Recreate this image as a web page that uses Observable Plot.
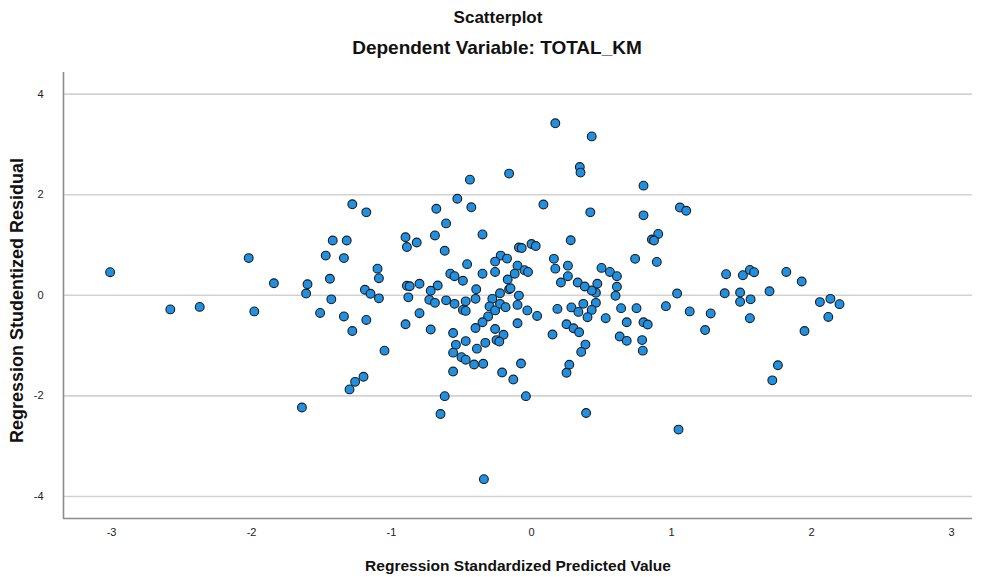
<!DOCTYPE html>
<html>
<head>
<meta charset="utf-8">
<script src="https://cdn.jsdelivr.net/npm/d3@7"></script>
<script src="https://cdn.jsdelivr.net/npm/@observablehq/plot@0.6"></script>
<style>
  html, body { margin: 0; padding: 0; background: #ffffff; }
  #chart { width: 989px; height: 577px; }
</style>
</head>
<body>
<div id="chart"></div>
<script>
const titleText = "Scatterplot";
const subtitleText = "Dependent Variable: TOTAL_KM";
const xLabel = "Regression Standardized Predicted Value";
const yLabel = "Regression Studentized Residual";
const xTicks = [-3, -2, -1, 0, 1, 2, 3];
const yTicks = [-4, -2, 0, 2, 4];
const gridValues = [-4, -2, 0, 2, 4];

// Regression standardized predicted values (x)
const predicted = [
  -1.28, -1.18, -1.42, -1.32, -2.02, -1.47, -1.34, -3.01, -1.84, -1.60,
  -1.44, -1.61, -1.43, -1.19, -1.15, -1.09, -2.58, -2.37, -1.98, -1.51,
  -1.34, -1.18, -1.28, -1.20, -1.26, -1.30, -1.64, 0.17, 0.43, 0.345,
  0.35, -0.16, -0.44, -0.53, -0.43, -0.68, 0.085, 0.80, 0.42, 0.80,
  -0.61, -0.69, -0.35, -0.90, -0.89, -0.82, -0.62, 0.28, -0.09, -0.07,
  0.00, 0.03, 0.905, 0.86, 0.875, 0.16, 0.17, 0.26, 0.74, 0.895,
  0.50, 0.56, 0.61, 0.61, 0.60, 0.47, 0.46, 0.46, 0.43, 0.33,
  0.38, 0.26, 0.21, 0.37, -0.22, -0.175, -0.26, -0.46, -0.10, -0.05,
  -0.025, -0.12, -0.26, -0.17, -0.16, -0.15, -0.225, -0.09, -0.35, -0.49,
  -0.58, -0.55, -0.67, -0.72, -0.89, -0.87, -0.80, -0.395, -0.88, -0.73,
  -0.69, -0.61, -0.55, -0.47, -0.40, -0.28, -1.10, -1.09, 1.06, 1.105,
  1.39, 1.51, 1.56, 1.59, 1.82, 1.93, 1.04, 1.38, 1.49, 1.70,
  1.49, 1.565, 0.96, 1.13, 1.28, 1.24, 1.56, 2.06, 2.135, 2.20,
  2.12, 1.95, 1.76, 1.72, 1.05, -0.49, -0.47, -0.30, -0.26, -0.225,
  -0.185, -0.10, -0.03, 0.04, 0.185, 0.285, 0.335, 0.43, 0.40, 0.53,
  0.64, 0.75, 0.68, 0.80, 0.83, 0.63, 0.68, 0.79, 0.795, 0.25,
  0.30, 0.34, 0.15, 0.385, 0.355, 0.27, 0.25, 0.39, -0.10, -0.20,
  -0.26, -0.25, -0.23, -0.31, -0.35, -0.40, -0.33, -0.39, -0.47, -0.54,
  -0.56, -0.56, -0.50, -0.47, -0.41, -0.345, -0.56, -0.21, -0.13, -0.075,
  -0.04, -0.62, -0.65, -0.34, -0.72, -0.80, -0.90, -1.05
];

// Regression studentized residuals (y)
const residual = [
  1.81, 1.65, 1.09, 1.09, 0.74, 0.79, 0.74, 0.46, 0.24, 0.22,
  0.33, 0.035, -0.08, 0.11, 0.03, -0.06, -0.28, -0.23, -0.32, -0.35,
  -0.42, -0.49, -0.71, -1.62, -1.72, -1.87, -2.23, 3.42, 3.16, 2.55,
  2.44, 2.42, 2.30, 1.92, 1.75, 1.72, 1.805, 2.18, 1.65, 1.59,
  1.43, 1.19, 1.21, 1.155, 0.96, 1.05, 0.885, 1.095, 0.95, 0.94,
  1.02, 0.98, 1.22, 1.11, 1.09, 0.725, 0.53, 0.59, 0.725, 0.665,
  0.545, 0.465, 0.38, 0.17, -0.01, 0.23, 0.05, -0.15, 0.095, 0.255,
  0.175, 0.38, 0.255, -0.17, 0.79, 0.73, 0.67, 0.62, 0.59, 0.50,
  0.465, 0.43, 0.465, 0.315, 0.12, 0.14, 0.04, -0.005, 0.43, 0.29,
  0.43, 0.38, 0.195, 0.09, 0.19, 0.18, 0.23, 0.12, -0.04, -0.09,
  -0.15, -0.10, -0.17, -0.12, -0.07, -0.07, 0.53, 0.34, 1.745, 1.68,
  0.42, 0.40, 0.505, 0.46, 0.465, 0.275, 0.035, 0.04, 0.055, 0.08,
  -0.13, -0.08, -0.215, -0.32, -0.36, -0.69, -0.455, -0.135, -0.07, -0.175,
  -0.43, -0.71, -1.39, -1.69, -2.67, -0.29, -0.31, -0.22, -0.30, -0.17,
  -0.235, -0.19, -0.30, -0.41, -0.27, -0.24, -0.33, -0.29, -0.435, -0.455,
  -0.255, -0.255, -0.535, -0.535, -0.58, -0.82, -0.905, -0.89, -1.10, -0.575,
  -0.655, -0.735, -0.78, -0.98, -1.125, -1.38, -1.54, -2.34, -0.555, -0.785,
  -0.67, -0.89, -0.92, -0.42, -0.535, -0.65, -0.945, -1.06, -0.91, -0.985,
  -0.75, -1.14, -1.23, -1.28, -1.375, -1.36, -1.515, -1.535, -1.675, -1.355,
  -2.005, -2.005, -2.36, -3.655, -0.68, -0.355, -0.575, -1.10
];

const points = predicted.map((x, i) => ({x, y: residual[i]}));

const xDomain = [-3.343, 3.15];
const yDomain = [-4.437, 4.43];

const font = "'Liberation Sans', Arial, Helvetica, sans-serif";
const fmt = d => String(d);

const chart = Plot.plot({
  width: 989,
  height: 577,
  marginTop: 72,
  marginBottom: 59,
  marginLeft: 63,
  marginRight: 17,
  style: {fontFamily: font, background: "#ffffff", overflow: "visible"},
  x: {domain: xDomain},
  y: {domain: yDomain},
  marks: [
    Plot.ruleY(gridValues, {stroke: "#d2d2d2", strokeWidth: 1.6}),
    Plot.ruleX([xDomain[0]], {stroke: "#8c8c8c", strokeWidth: 1.6}),
    Plot.ruleY([yDomain[0]], {stroke: "#8c8c8c", strokeWidth: 1.6}),
    Plot.axisX({ticks: xTicks, tickFormat: fmt, tickSize: 0, tickPadding: 10, fontSize: 11, label: null, color: "#222"}),
    Plot.axisY({ticks: yTicks, tickFormat: fmt, tickSize: 0, tickPadding: 20, fontSize: 11, label: null, color: "#222"}),
    Plot.dot(points, {x: "x", y: "y", r: 4.4, fill: "#1f90e2", stroke: "#1c1c1c", strokeWidth: 1.1}),
    Plot.text([titleText], {text: d => d, frameAnchor: "top", lineAnchor: "middle", textAnchor: "middle", dx: -20, dy: -55, fontSize: 17, fontWeight: "bold", fill: "#111"}),
    Plot.text([subtitleText], {text: d => d, frameAnchor: "top", lineAnchor: "middle", textAnchor: "middle", dx: -21, dy: -25, fontSize: 19, fontWeight: "bold", fill: "#111"}),
    Plot.text([xLabel], {text: d => d, frameAnchor: "bottom", lineAnchor: "middle", textAnchor: "middle", dy: 48, fontSize: 15.5, fontWeight: "bold", fill: "#111"}),
    Plot.text([yLabel], {text: d => d, frameAnchor: "left", lineAnchor: "middle", textAnchor: "middle", dx: -46, dy: 5, rotate: -90, fontSize: 18, fontWeight: "bold", fill: "#111"})
  ]
});

document.getElementById("chart").appendChild(chart);
</script>
</body>
</html>
